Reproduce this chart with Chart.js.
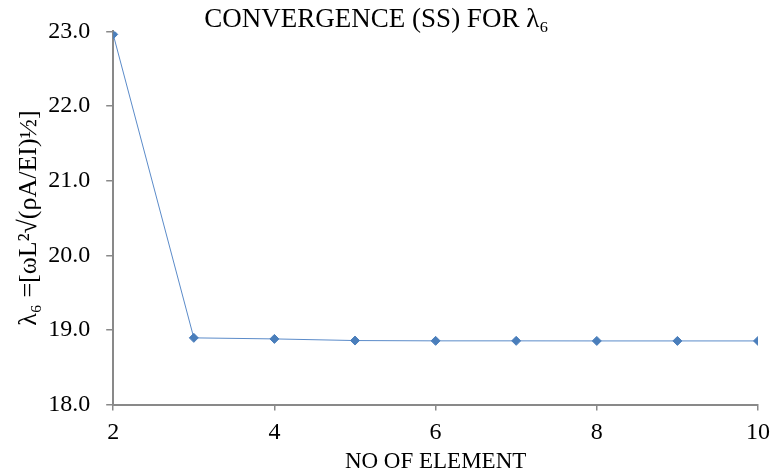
<!DOCTYPE html>
<html lang="en">
<head>
  <meta charset="UTF-8">
  <title>Convergence (SS) for λ6</title>
  <script src="https://cdn.jsdelivr.net/npm/chart.js"></script>
  <style>
    html, body {
      margin: 0;
      padding: 0;
      background: #ffffff;
    }
    .chart-container {
      width: 778px;
      height: 476px;
    }
  </style>
</head>
<body>

  <div class="chart-container">
    <canvas id="convChart"></canvas>
  </div>

  <script>
    // number of elements vs. sixth natural frequency parameter
    const elements = [2, 3, 4, 5, 6, 7, 8, 9, 10];
    const lambda6 = [22.96, 18.894, 18.88, 18.858, 18.854, 18.854, 18.853, 18.853, 18.853];
    const xTicks = [2, 4, 6, 8, 10];
    const yTicks = [18, 19, 20, 21, 22, 23];

    const axisGrey = '#898989';
    const serif = "'Liberation Serif', 'Times New Roman', serif";

    new Chart(document.getElementById('convChart'), {
      type: 'line',
      data: {
        datasets: [{
          label: 'λ6',
          data: elements.map((n, i) => ({ x: n, y: lambda6[i] })),
          borderColor: '#5b8bc9',
          backgroundColor: '#4a7ebb',
          borderWidth: 1,
          pointStyle: 'rectRot',
          pointRadius: 4.5,
          pointHoverRadius: 4.5,
          pointBorderColor: '#4a7ebb',
          tension: 0
        }]
      },
      options: {
        responsive: true,
        maintainAspectRatio: false,
        animation: false,
        layout: {
          padding: { left: 12, right: 10, top: 1, bottom: 0 }
        },
        plugins: {
          legend: { display: false },
          tooltip: { enabled: false },
          title: {
            display: true,
            // trailing spaces nudge the centred heading a little to the left
            text: 'CONVERGENCE (SS) FOR λ₆\u00a0\u00a0\u00a0\u00a0',
            color: '#000',
            font: { family: serif, size: 27, weight: 'normal' },
            padding: { top: 3, bottom: -5 }
          }
        },
        scales: {
          x: {
            type: 'linear',
            min: 2,
            max: 10,
            afterBuildTicks: axis => { axis.ticks = xTicks.map(v => ({ value: v })); },
            ticks: {
              color: '#000',
              font: { family: serif, size: 24 },
              padding: 8,
              maxRotation: 0
            },
            grid: {
              drawOnChartArea: false,
              drawTicks: true,
              tickLength: 6,
              color: axisGrey,
              lineWidth: 1.5
            },
            border: { color: axisGrey, width: 2 },
            title: {
              display: true,
              text: 'NO OF ELEMENT',
              color: '#000',
              font: { family: serif, size: 23 },
              padding: { top: -7, bottom: 0 }
            }
          },
          y: {
            min: 18,
            max: 23,
            afterBuildTicks: axis => { axis.ticks = yTicks.map(v => ({ value: v })); },
            ticks: {
              color: '#000',
              font: { family: serif, size: 24 },
              padding: 16,
              callback: v => v.toFixed(1)
            },
            grid: {
              drawOnChartArea: false,
              drawTicks: true,
              tickLength: 7,
              color: axisGrey,
              lineWidth: 1.5
            },
            border: { color: axisGrey, width: 2 },
            title: {
              display: true,
              text: 'λ₆ =[ωL²√(ρA/EI)½]',
              color: '#000',
              font: { family: serif, size: 26 },
              padding: { top: 2, bottom: -13 }
            }
          }
        }
      }
    });
  </script>

</body>
</html>
